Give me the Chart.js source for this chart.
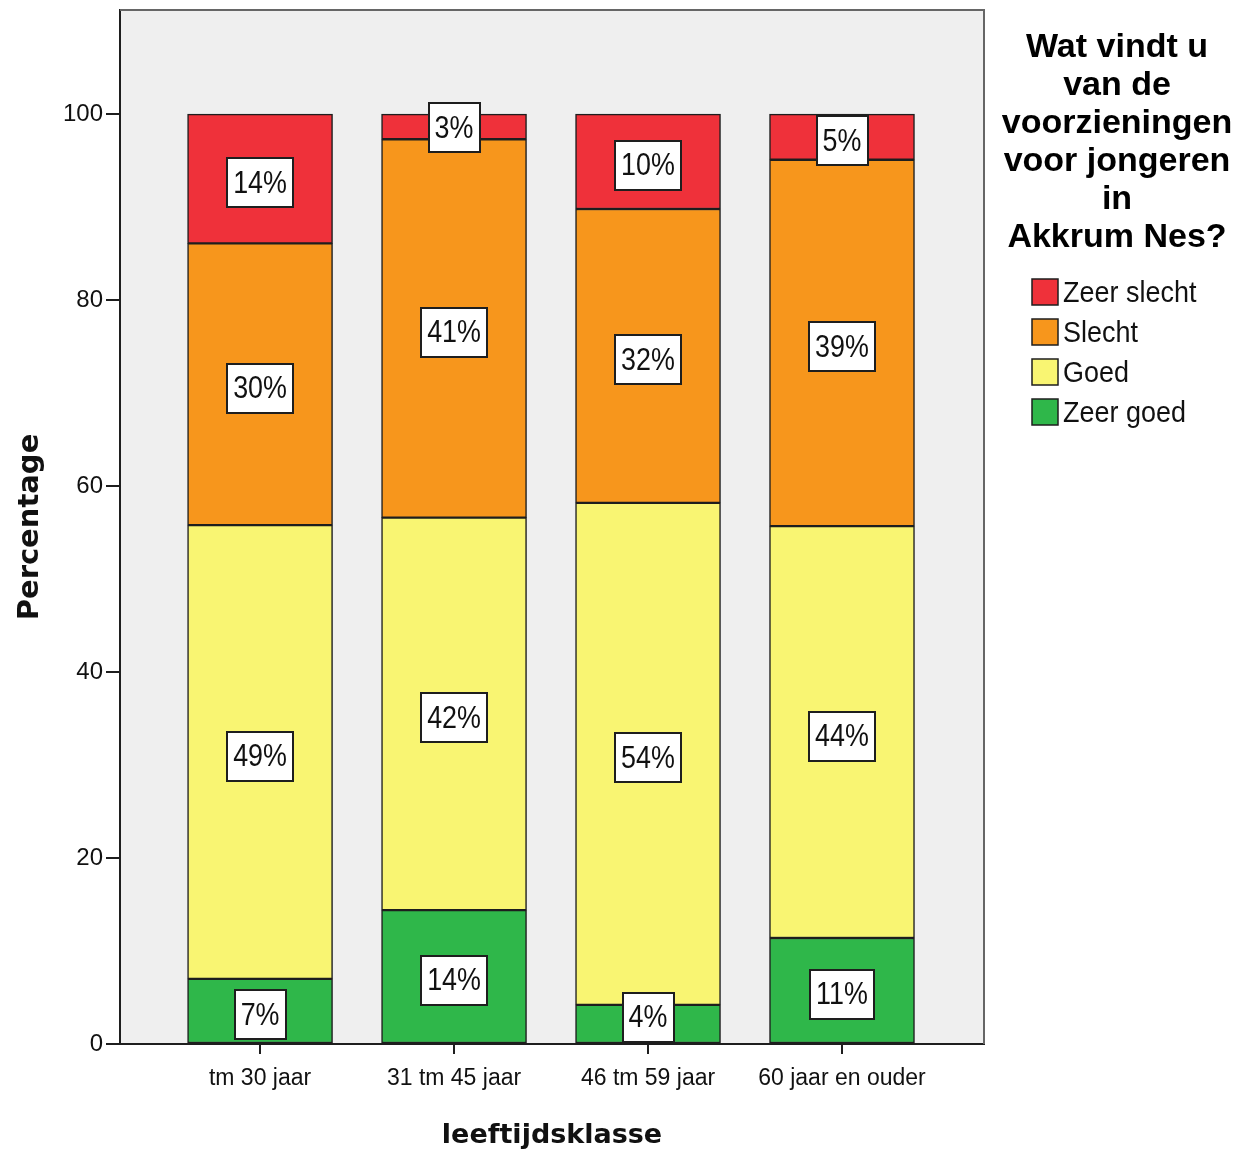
<!DOCTYPE html>
<html>
<head>
<meta charset="utf-8">
<script src="https://cdn.jsdelivr.net/npm/chart.js@4/dist/chart.umd.min.js"></script>
<style>
  html, body { margin: 0; padding: 0; background: #fff; }
  #wrap { width: 1240px; height: 1154px; position: relative; }
</style>
</head>
<body>
<div id="wrap"><canvas id="chart" width="1240" height="1154"></canvas></div>
<script>
(function () {
  'use strict';

  // categories (leeftijdsklasse)
  var CATEGORIES = ['tm 30 jaar', '31 tm 45 jaar', '46 tm 59 jaar', '60 jaar en ouder'];

  // percentages per answer, stacked bottom to top
  var ZEER_GOED   = [7.0, 14.4, 4.2, 11.4];
  var GOED        = [48.8, 42.2, 54.0, 44.3];
  var SLECHT      = [30.3, 40.7, 31.6, 39.4];
  var ZEER_SLECHT = [13.9, 2.7, 10.2, 4.9];

  var Y_TICKS = [0, 20, 40, 60, 80, 100];

  var LEGEND_TITLE = ['Wat vindt u', 'van de', 'voorzieningen', 'voor jongeren', 'in', 'Akkrum Nes?'];

  var SANS = '"Liberation Sans", Arial, sans-serif';
  var INK = '#1e1e1e';
  var SQUEEZE = 0.84;   // the original output uses a condensed face

  function pts(arr) {
    return arr.map(function (v, i) { return { x: i, y: v }; });
  }

  function ds(label, arr, color) {
    return {
      label: label,
      data: pts(arr),
      backgroundColor: color,
      borderColor: INK,
      borderWidth: 1.5,
      borderSkipped: false,
      barThickness: 145,
    };
  }

  function narrowText(ctx, txt, x, y, k) {
    ctx.save();
    ctx.translate(x, y);
    ctx.scale(k || SQUEEZE, 1);
    ctx.fillText(txt, 0, 0);
    ctx.restore();
  }

  // grey plot background plus frame
  var framePlugin = {
    id: 'frame',
    beforeDraw: function (chart) {
      var a = chart.chartArea, ctx = chart.ctx;
      ctx.save();
      ctx.fillStyle = '#efefef';
      ctx.fillRect(a.left, a.top, a.right - a.left, a.bottom - a.top);
      ctx.restore();
    },
    afterDraw: function (chart) {
      var a = chart.chartArea, ctx = chart.ctx;
      ctx.save();
      ctx.strokeStyle = '#666';
      ctx.lineWidth = 2;
      ctx.beginPath();
      ctx.moveTo(a.left, a.top);
      ctx.lineTo(a.right, a.top);
      ctx.lineTo(a.right, a.bottom);
      ctx.stroke();
      ctx.restore();
    }
  };

  // boxed percentage labels in each segment
  var boxLabels = {
    id: 'boxLabels',
    afterDatasetsDraw: function (chart) {
      var ctx = chart.ctx, bottom = chart.chartArea.bottom;
      ctx.save();
      ctx.font = '32px ' + SANS;
      ctx.textAlign = 'center';
      ctx.textBaseline = 'middle';
      chart.data.datasets.forEach(function (d, di) {
        var meta = chart.getDatasetMeta(di);
        meta.data.forEach(function (el, i) {
          var txt = Math.round(d.data[i].y) + '%';
          var w = Math.round(ctx.measureText(txt).width * SQUEEZE) + 12;
          var h = 49;
          var seg = Math.abs(el.base - el.y);
          var cy = (el.y + el.base) / 2 + (seg > 40 ? 4 : 1);
          if (cy + h / 2 > bottom - 2) cy = bottom - 2 - h / 2;
          var x0 = Math.round(el.x - w / 2), y0 = Math.round(cy - h / 2);
          ctx.fillStyle = '#fff';
          ctx.fillRect(x0, y0, w, h);
          ctx.strokeStyle = INK;
          ctx.lineWidth = 2;
          ctx.strokeRect(x0, y0, w, h);
          ctx.fillStyle = '#111';
          narrowText(ctx, txt, el.x, cy + 1);
        });
      });
      ctx.restore();
    }
  };

  // legend with multi-line title on the right
  var sideLegend = {
    id: 'sideLegend',
    afterDraw: function (chart) {
      var ctx = chart.ctx;
      var cx = 1117;
      ctx.save();
      ctx.fillStyle = '#000';
      ctx.textAlign = 'center';
      ctx.textBaseline = 'middle';
      ctx.font = 'bold 34px ' + SANS;
      LEGEND_TITLE.forEach(function (line, i) {
        ctx.fillText(line, cx, 48 + i * 38);
      });
      var items = chart.data.datasets.slice().reverse();
      ctx.textAlign = 'left';
      ctx.font = '29px ' + SANS;
      items.forEach(function (d, i) {
        var y = 292 + i * 40;
        ctx.fillStyle = d.backgroundColor;
        ctx.fillRect(1032, y - 13, 26, 26);
        ctx.strokeStyle = INK;
        ctx.lineWidth = 1.5;
        ctx.strokeRect(1032, y - 13, 26, 26);
        ctx.fillStyle = '#111';
        narrowText(ctx, d.label, 1063, y + 2, 0.93);
      });
      ctx.restore();
    }
  };

  new Chart(document.getElementById('chart'), {
    type: 'bar',
    data: {
      datasets: [
        ds('Zeer goed', ZEER_GOED, '#2fb74a'),
        ds('Goed', GOED, '#f9f572'),
        ds('Slecht', SLECHT, '#f7961c'),
        ds('Zeer slecht', ZEER_SLECHT, '#ef313a'),
      ],
    },
    options: {
      responsive: false,
      animation: false,
      layout: { padding: { left: 0, top: 10, right: 256, bottom: 0 } },
      plugins: { legend: { display: false }, tooltip: { enabled: false } },
      scales: {
        x: {
          type: 'linear',
          stacked: true,
          min: -0.722,
          max: 3.732,
          offset: false,
          afterBuildTicks: function (s) {
            s.ticks = CATEGORIES.map(function (c, i) { return { value: i }; });
          },
          afterFit: function (s) {
            s.height = 110;
            s.paddingLeft = 0; s.paddingRight = 0;
          },
          ticks: {
            autoSkip: false,
            maxRotation: 0,
            padding: 11,
            color: '#111',
            font: { family: SANS, size: 23 },
            callback: function (v) { return CATEGORIES[v]; },
          },
          grid: { offset: false, drawOnChartArea: false, drawTicks: true, tickLength: 10, color: INK, lineWidth: 2 },
          border: { display: true, color: INK, width: 2 },
          title: {
            display: true,
            text: 'leeftijdsklasse',
            color: '#111',
            font: { family: '"DejaVu Sans", sans-serif', weight: 'bold', size: 27 },
            padding: { top: 0, bottom: 2 },
          },
        },
        y: {
          stacked: true,
          min: 0,
          max: 111.2,
          afterBuildTicks: function (s) {
            s.ticks = Y_TICKS.map(function (v) { return { value: v }; });
          },
          afterFit: function (s) {
            s.width = 120;
            s.paddingTop = 0; s.paddingBottom = 0;
          },
          ticks: {
            padding: 3,
            color: '#111',
            font: { family: SANS, size: 24 },
          },
          grid: { drawOnChartArea: false, drawTicks: true, tickLength: 14, color: INK, lineWidth: 2 },
          border: { display: true, color: INK, width: 2 },
          title: {
            display: true,
            text: 'Percentage',
            color: '#111',
            font: { family: '"DejaVu Sans", sans-serif', weight: 'bold', size: 29 },
            padding: { top: 13, bottom: 0 },
          },
        },
      },
    },
    plugins: [framePlugin, boxLabels, sideLegend],
  });
})();
</script>
</body>
</html>
